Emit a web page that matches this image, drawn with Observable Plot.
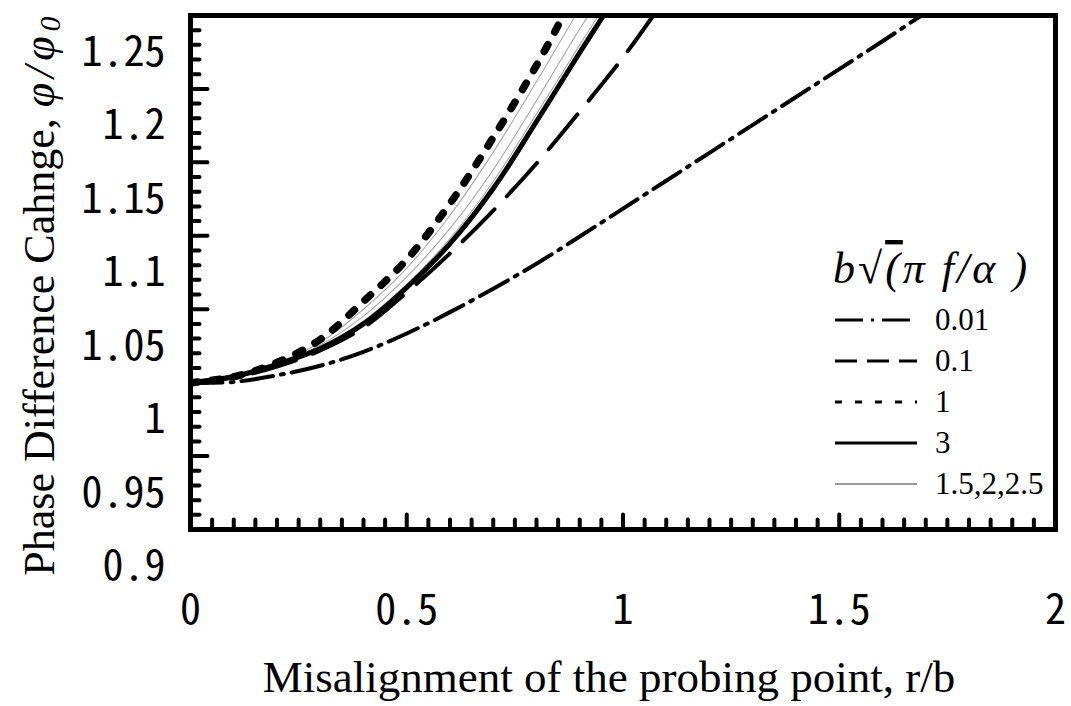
<!DOCTYPE html>
<html>
<head>
<meta charset="utf-8">
<script src="https://cdn.jsdelivr.net/npm/d3@7"></script>
<script src="https://cdn.jsdelivr.net/npm/@observablehq/plot@0.6"></script>
<style>
  body { margin: 0; background: #fff; }
  #chart svg { display: block; }
</style>
</head>
<body>
<div id="chart"></div>
<script>
// Normalised phase difference φ/φ0 against probe misalignment r/b,
// one curve per value of b√(πf/α).
const r_001 = [0, 0.1, 0.2, 0.3, 0.4, 0.5, 0.6, 0.7, 0.8, 0.9, 1.0, 1.1, 1.2, 1.3, 1.4, 1.5, 1.6, 1.69];
const phi_001 = [1.0, 1.0005, 1.005, 1.0115, 1.021, 1.0335, 1.048, 1.064, 1.081, 1.0995, 1.1185, 1.1375, 1.1565, 1.1755, 1.1945, 1.2135, 1.2325, 1.25];

const r_01 = [0, 0.1, 0.2, 0.3, 0.4, 0.5, 0.6, 0.7, 0.8, 0.9, 1.0, 1.07];
const phi_01 = [1.0, 1.0035, 1.011, 1.0219, 1.0375, 1.0614, 1.088, 1.1172, 1.1492, 1.1846, 1.2214, 1.25];

const r_1 = [0, 0.1, 0.2, 0.3, 0.4, 0.5, 0.6, 0.7, 0.8, 0.862];
const phi_1 = [1.0, 1.004, 1.0137, 1.0294, 1.0553, 1.0838, 1.122, 1.167, 1.216, 1.25];

const r_3 = [0, 0.1, 0.2, 0.3, 0.4, 0.5, 0.6, 0.7, 0.8, 0.9, 0.955];
const phi_3 = [1.0, 1.0042, 1.0124, 1.0232, 1.040, 1.0648, 1.0947, 1.1322, 1.1778, 1.2248, 1.25];

const r_15 = [0, 0.1, 0.2, 0.3, 0.4, 0.5, 0.6, 0.7, 0.8, 0.89];
const phi_15 = [1.0, 1.004, 1.0133, 1.0275, 1.050, 1.078, 1.114, 1.157, 1.205, 1.25];

const r_2 = [0, 0.1, 0.2, 0.3, 0.4, 0.5, 0.6, 0.7, 0.8, 0.9, 0.92];
const phi_2 = [1.0, 1.004, 1.0129, 1.0256, 1.0453, 1.072, 1.105, 1.145, 1.192, 1.241, 1.25];

const r_25 = [0, 0.1, 0.2, 0.3, 0.4, 0.5, 0.6, 0.7, 0.8, 0.9, 0.943];
const phi_25 = [1.0, 1.004, 1.0126, 1.024, 1.042, 1.067, 1.098, 1.137, 1.183, 1.230, 1.25];

const xTicks = [0, 0.5, 1, 1.5, 2];
const yTicks = [0.9, 0.95, 1, 1.05, 1.1, 1.15, 1.2, 1.25];
const legendLabels = ["0.01", "0.1", "1", "3", "1.5,2,2.5"];

const series = [
  { key: "1.5", r: r_15, phi: phi_15 },
  { key: "2", r: r_2, phi: phi_2 },
  { key: "2.5", r: r_25, phi: phi_25 },
  { key: "0.01", r: r_001, phi: phi_001 },
  { key: "0.1", r: r_01, phi: phi_01 },
  { key: "1", r: r_1, phi: phi_1 },
  { key: "3", r: r_3, phi: phi_3 }
];
const rows = series.flatMap(s => s.r.map((r, i) => ({ key: s.key, r, phi: s.phi[i] })));

const styles = {
  "1.5": { stroke: "#a8a8a8", strokeWidth: 1.1 },
  "2": { stroke: "#a8a8a8", strokeWidth: 1.1 },
  "2.5": { stroke: "#a8a8a8", strokeWidth: 1.1 },
  "0.01": { stroke: "#000", strokeWidth: 4, strokeDasharray: "32,8,3,8" },
  "0.1": { stroke: "#000", strokeWidth: 4, strokeDasharray: "45,18" },
  "1": { stroke: "#000", strokeWidth: 7.5, strokeDasharray: "7.5,14.5" },
  "3": { stroke: "#000", strokeWidth: 5 }
};

// minor tick positions between the labelled ones
const xMinor = d3.range(1, 40).map(i => i / 20).filter(v => (Math.round(v * 20) % 10) !== 0);
const yMinor = d3.range(91, 125).map(i => i / 100).filter(v => (Math.round(v * 100) % 5) !== 0);
const xMajor = [0.5, 1, 1.5];
const yMajor = [0.95, 1, 1.05, 1.1, 1.15, 1.2];

const tickStyle = { stroke: "#000", strokeWidth: 4, strokeLinecap: "round", anchor: "start", r: 0 };
const digitFont = "'Noto Sans CJK JP', 'Liberation Sans', sans-serif";

const plot = Plot.plot({
  width: 1071,
  height: 706,
  marginLeft: 190,
  marginRight: 16,
  marginTop: 15,
  marginBottom: 177,
  x: { domain: [0, 2] },
  y: { domain: [0.9, 1.25] },
  marks: [
    ...series.map(s => Plot.line(rows.filter(d => d.key === s.key), {
      x: "r", y: "phi", curve: "catmull-rom", clip: true, ...styles[s.key]
    })),
    Plot.vector(xMinor, { x: d => d, frameAnchor: "bottom", rotate: 0, length: 10, ...tickStyle }),
    Plot.vector(xMajor, { x: d => d, frameAnchor: "bottom", rotate: 0, length: 15, ...tickStyle }),
    Plot.vector(yMinor, { y: d => d, frameAnchor: "left", rotate: 90, length: 9, ...tickStyle }),
    Plot.vector(yMajor, { y: d => d, frameAnchor: "left", rotate: 90, length: 17, ...tickStyle }),
    Plot.frame({ stroke: "#000", strokeWidth: 5 }),
    Plot.axisX(xTicks, {
      anchor: "bottom", tickSize: 0, tickPadding: 65, label: null,
      tickFormat: d => String(d), fontSize: 42, fontFamily: digitFont
    }),
    Plot.axisY(yTicks, {
      anchor: "left", tickSize: 0, tickPadding: 25, dy: 37, label: null,
      tickFormat: d => String(d), fontSize: 42, fontFamily: digitFont
    })
  ]
});

document.getElementById("chart").appendChild(plot);

const svg = d3.select(plot);
svg.selectAll('g[aria-label$="tick label"] text').style("font-feature-settings", '"hwid" 1');

const serif = "'Liberation Serif', 'Times New Roman', serif";

// axis titles
const yTitle = svg.append("text")
  .attr("transform", "translate(54,296) rotate(-90)")
  .attr("text-anchor", "middle")
  .attr("font-family", serif)
  .attr("font-size", 44)
  .attr("fill", "#000");
yTitle.append("tspan").text("Phase Difference Cahnge, ");
yTitle.append("tspan").attr("font-style", "italic").attr("letter-spacing", 5).text("φ/φ");
yTitle.append("tspan").attr("font-style", "italic").attr("font-size", 30).attr("dy", 6).text("0");

svg.append("text")
  .attr("x", 609).attr("y", 692)
  .attr("text-anchor", "middle")
  .attr("font-family", serif)
  .attr("font-size", 45)
  .attr("fill", "#000")
  .text("Misalignment of the probing point, r/b");

// legend
const lg = svg.append("g").attr("font-family", serif).attr("fill", "#000").attr("text-anchor", "start");
const lt = lg.append("text").attr("x", 833).attr("y", 283).attr("font-size", 44).attr("font-style", "italic").attr("letter-spacing", 3);
lt.append("tspan").text("b");
lt.append("tspan").attr("font-style", "normal").text("√");
lt.append("tspan").style("text-decoration", "overline").style("text-decoration-thickness", "2px").text("(");
lt.append("tspan").text("π f/α )");

const sample = [
  { stroke: "#000", width: 3, dash: "28,8,3,8" },
  { stroke: "#000", width: 3, dash: "22,10" },
  { stroke: "#000", width: 3, dash: "7,13" },
  { stroke: "#000", width: 3, dash: null },
  { stroke: "#777", width: 1.5, dash: null }
];
legendLabels.forEach((label, i) => {
  const cy = 320 + i * 41;
  lg.append("line")
    .attr("x1", 835).attr("x2", 917).attr("y1", cy).attr("y2", cy)
    .attr("stroke", sample[i].stroke)
    .attr("stroke-width", sample[i].width)
    .attr("stroke-dasharray", sample[i].dash);
  lg.append("text")
    .attr("x", 935).attr("y", cy + 10)
    .attr("font-size", 31)
    .text(label);
});
</script>
</body>
</html>
